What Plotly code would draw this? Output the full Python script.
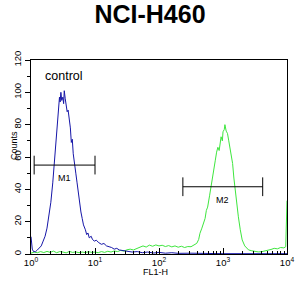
import numpy as np
import plotly.graph_objects as go

# ---- data (FL1-H given as log10 decades, counts) ----
control_log10 = [0.00, 0.01, 0.02, 0.04, 0.07, 0.10, 0.13, 0.16, 0.19, 0.22, 0.25, 0.28, 0.31, 0.34,
                 0.36, 0.38, 0.40, 0.42, 0.43, 0.445, 0.455, 0.467, 0.48, 0.497, 0.51, 0.52, 0.535,
                 0.55, 0.565, 0.58, 0.60, 0.615, 0.63, 0.645, 0.66, 0.68, 0.70, 0.72, 0.74, 0.76,
                 0.78, 0.80, 0.82, 0.85, 0.87, 0.89, 0.91, 0.94, 0.96, 0.99, 1.02, 1.06, 1.10, 1.14,
                 1.18, 1.22, 1.26, 1.30, 1.34, 1.38, 1.44, 1.50, 1.58, 1.66, 1.74, 1.82, 1.92, 2.0,
                 2.1, 2.2, 2.3, 2.5, 2.7, 3.0, 3.5, 4.0]
control_counts = [10.7, 6, 3, 1.5, 1.4, 2.5, 3.5, 5, 8, 11, 16, 24, 32, 44,
                  54, 66, 79, 86, 92, 97, 94, 100, 95, 97, 93, 101, 96,
                  93, 88, 89, 84, 78, 69, 71, 62, 57, 50, 44, 37, 32,
                  26, 22, 18, 15, 12, 13, 10, 11, 9, 8, 8.5, 7, 6, 6.5,
                  5, 4.5, 4, 3, 3.5, 2.5, 2, 1.8, 1.2, 1.5, 0.8, 1.2, 0.6, 1,
                  0.5, 0.8, 0.4, 0.5, 0.3, 0.2, 0.2, 0.2]

sample_log10 = [0.00, 0.05, 0.10, 0.15, 0.20, 0.25, 0.30, 0.35, 0.40, 0.45, 0.50, 0.55, 0.60, 0.65,
                0.70, 0.75, 0.80, 0.85, 0.90, 0.95, 1.00, 1.05, 1.10, 1.15, 1.20, 1.25, 1.30, 1.35,
                1.40, 1.45, 1.50, 1.55, 1.60, 1.65, 1.70, 1.75, 1.80, 1.85, 1.90, 1.95, 2.00, 2.05,
                2.10, 2.15, 2.20, 2.25, 2.30, 2.35, 2.40, 2.45, 2.50, 2.55, 2.59, 2.62, 2.64, 2.67,
                2.69, 2.72, 2.74, 2.76, 2.79, 2.81, 2.83, 2.86, 2.88, 2.90, 2.92, 2.94, 2.97, 2.99,
                3.00, 3.02, 3.03, 3.05, 3.07, 3.09, 3.12, 3.14, 3.15, 3.17, 3.19, 3.21, 3.24, 3.27,
                3.30, 3.34, 3.40, 3.45, 3.50, 3.55, 3.60, 3.65, 3.70, 3.75, 3.80, 3.85, 3.90, 3.95,
                3.98, 3.995, 4.0]
sample_counts = [0.5, 1.2, 0.8, 1.5, 0.9, 1.6, 1.0, 1.8, 0.8, 1.5, 1.2, 0.7, 1.6, 1.0,
                 1.3, 0.8, 1.2, 0.9, 1.4, 1.0, 1.2, 0.8, 1.5, 1.0, 1.7, 1.2, 1.9, 1.5,
                 2.2, 1.8, 2.6, 3.0, 2.5, 3.5, 4.0, 5.0, 4.3, 5.5, 4.8, 5.6, 5.0, 5.4,
                 4.6, 5.2, 4.4, 5.0, 4.2, 4.8, 4.0, 4.6, 4.5, 5.5, 6.6, 9, 12.8, 16,
                 19, 22, 27, 29, 36, 41.6, 46, 54, 58, 63, 66, 64, 72.5, 70,
                 75.6, 77, 80, 76, 74.6, 70, 64, 60, 56, 47, 39.6, 32, 23, 15,
                 8.7, 5, 2.5, 2.0, 1.6, 1.3, 1.4, 1.8, 2.2, 2.8, 3.5, 3.2, 4.0, 3.8,
                 4.5, 33, 33]

marker_names = ["M1", "M2"]
marker_lo = [1.12, 236]
marker_hi = [10, 4170]
marker_level = [55, 41.6]

x_tickvals = [1, 10, 100, 1000, 10000]
x_ticktext = ["10<sup>0</sup>", "10<sup>1</sup>", "10<sup>2</sup>", "10<sup>3</sup>", "10<sup>4</sup>"]
y_tickvals = [0, 20, 40, 60, 80, 100, 120]

FONT = "Liberation Sans, Arial, sans-serif"
BLUE = "#1616a8"
GREEN = "#3ee63e"

fig = go.Figure()
fig.add_trace(go.Scatter(x=np.power(10.0, sample_log10), y=sample_counts, mode="lines",
                         line=dict(color=GREEN, width=1), showlegend=False))
fig.add_trace(go.Scatter(x=np.power(10.0, control_log10), y=control_counts, mode="lines",
                         line=dict(color=BLUE, width=1), showlegend=False))

for name, lo, hi, lv in zip(marker_names, marker_lo, marker_hi, marker_level):
    cap = 5.8
    fig.add_trace(go.Scatter(x=[lo, hi, None, lo, lo, None, hi, hi],
                             y=[lv, lv, None, lv - cap, lv + cap, None, lv - cap, lv + cap],
                             mode="lines", line=dict(color="black", width=1), showlegend=False))
    fig.add_annotation(x=np.log10(np.sqrt(lo * hi)), y=lv - 8, text=name, showarrow=False,
                       font=dict(family=FONT, size=9, color="black"), xref="x", yref="y")

fig.add_annotation(x=0.19, y=110.4, text="control", showarrow=False, xanchor="left",
                   font=dict(family=FONT, size=12.5, color="black"), xref="x", yref="y")

fig.add_annotation(x=(6 - 30) / 263, y=0.56, xref="paper", yref="paper", text="Counts", showarrow=False,
                   textangle=-90, font=dict(family=FONT, size=9, color="black"))
fig.add_annotation(x=0.488, y=-0.128, xref="paper", yref="paper", text="FL1-H", showarrow=False,
                   font=dict(family=FONT, size=9, color="black"))

minor_x = [m * d for d in [1, 10, 100, 1000] for m in range(2, 10)]

fig.update_layout(
    width=306, height=289,
    margin=dict(l=30, r=13, t=60, b=35),
    paper_bgcolor="white", plot_bgcolor="white",
    title=dict(text="<b>NCI-H460</b>", x=150 / 306, y=1 - 14 / 289, xref="container", yref="container",
               xanchor="center", yanchor="middle",
               font=dict(family=FONT, size=25, color="black")),
    xaxis=dict(type="log", range=[0, 4], tickvals=x_tickvals, ticktext=x_ticktext,
               ticks="inside", ticklen=6, tickcolor="black", showline=True, linecolor="black",
               linewidth=1, mirror=True, showgrid=False, zeroline=False,
               tickfont=dict(family=FONT, size=9.5, color="black"),
               minor=dict(tickvals=minor_x, ticks="inside", ticklen=3, tickcolor="black", showgrid=False)),
    yaxis=dict(range=[0, 120], tickvals=y_tickvals, tickangle=-90,
               ticks="outside", ticklen=5, tickcolor="black", showline=True, linecolor="black",
               linewidth=1, mirror=True, showgrid=False, zeroline=False,
               tickfont=dict(family=FONT, size=9.5, color="black"),
               minor=dict(dtick=10, ticks="outside", ticklen=3, tickcolor="black", showgrid=False)),
)

fig.write_html("out.html")
